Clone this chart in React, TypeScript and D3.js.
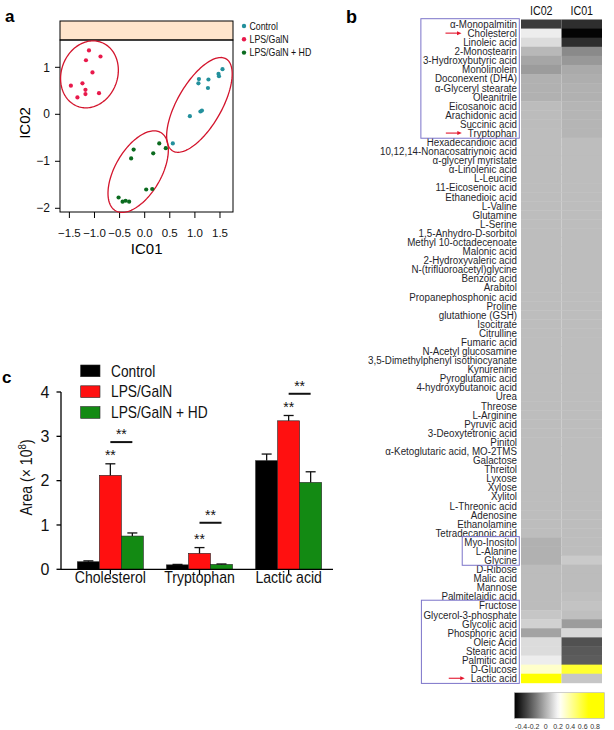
import React from "react";
import * as d3 from "d3";

const FONT = "'Liberation Sans', Arial, Helvetica, sans-serif";

// ---------- Panel a: ICA scores ----------
const groupsA = ["Control", "LPS/GalN", "LPS/GalN + HD"];
const colorsA = ["#23909c", "#e8194b", "#0b6b1f"];
const controlX = [1.55, 1.47, 1.48, 1.08, 1.07, 1.27, 1.26, 1.11, 1.14, 0.9, 0.56];
const controlY = [0.96, 0.86, 0.81, 0.75, 0.66, 0.74, 0.56, 0.06, 0.08, -0.04, -0.62];
const lpsX = [-1.11, -1.17, -0.88, -1.04, -1.47, -1.24, -1.18, -1.18, -1.34, -0.91];
const lpsY = [1.36, 1.15, 1.23, 0.89, 0.61, 0.66, 0.52, 0.43, 0.36, 0.45];
const hdX = [0.29, 0.42, -0.22, 0.17, -0.27, 0.03, 0.15, -0.52, -0.44, -0.38, -0.31];
const hdY = [-0.62, -0.72, -0.75, -0.83, -0.94, -1.6, -1.59, -1.77, -1.86, -1.84, -1.86];
// ellipses (Control, LPS/GalN, LPS/GalN + HD)
const ellCx = [1.09, -1.1, -0.13];
const ellCy = [0.2, 0.85, -1.22];
const ellA = [1.06, 0.68, 0.9];
const ellB = [0.44, 0.56, 0.46];
const ellAngle = [60, 70, 60];
const xTicksA = [-1.5, -1, -0.5, 0, 0.5, 1, 1.5];
const yTicksA = [-2, -1, 0, 1];

// ---------- Panel b: heatmap ----------
const metabolites = [
  "α-Monopalmitin", "Cholesterol", "Linoleic acid", "2-Monostearin", "3-Hydroxybutyric acid",
  "Monolinolein", "Doconexent (DHA)", "α-Glyceryl stearate", "Oleanitrile", "Eicosanoic acid",
  "Arachidonic acid", "Succinic acid", "Tryptophan", "Hexadecandioic acid",
  "10,12,14-Nonacosatriynoic acid", "α-glyceryl myristate", "α-Linolenic acid", "L-Leucine",
  "11-Eicosenoic acid", "Ethanedioic acid", "L-Valine", "Glutamine", "L-Serine",
  "1,5-Anhydro-D-sorbitol", "Methyl 10-octadecenoate", "Malonic acid", "2-Hydroxyvaleric acid",
  "N-(trifluoroacetyl)glycine", "Benzoic acid", "Arabitol", "Propanephosphonic acid", "Proline",
  "glutathione (GSH)", "Isocitrate", "Citrulline", "Fumaric acid", "N-Acetyl glucosamine",
  "3,5-Dimethylphenyl isothiocyanate", "Kynurenine", "Pyroglutamic acid", "4-hydroxybutanoic acid",
  "Urea", "Threose", "L-Arginine", "Pyruvic acid", "3-Deoxytetronic acid", "Pinitol",
  "α-Ketoglutaric acid, MO-2TMS", "Galactose", "Threitol", "Lyxose", "Xylose", "Xylitol",
  "L-Threonic acid", "Adenosine", "Ethanolamine", "Tetradecanoic acid", "Myo-Inositol",
  "L-Alanine", "Glycine", "D-Ribose", "Malic acid", "Mannose", "Palmitelaidic acid", "Fructose",
  "Glycerol-3-phosphate", "Glycolic acid", "Phosphoric acid", "Oleic Acid", "Stearic acid",
  "Palmitic acid", "D-Glucose", "Lactic acid",
];
const heatCols = ["IC02", "IC01"];
const ic02Values = [
  -0.33, 0.17, 0.12, 0.02, -0.03, -0.06, 0.0, 0.0, 0.0, 0.03,
  0.03, 0.03, 0.035, 0.035, 0.035, 0.035, 0.035, 0.035, 0.035, 0.035,
  0.035, 0.035, 0.035, 0.035, 0.035, 0.035, 0.035, 0.035, 0.035, 0.035,
  0.035, 0.035, 0.035, 0.035, 0.035, 0.035, 0.035, 0.035, 0.035, 0.035,
  0.035, 0.035, 0.035, 0.035, 0.035, 0.035, 0.035, 0.035, 0.035, 0.035,
  0.035, 0.035, 0.035, 0.035, 0.035, 0.035, 0.035, 0.0, 0.0, 0.0,
  0.03, 0.03, 0.03, 0.03, 0.03, 0.06, 0.09, -0.04, 0.12, 0.12,
  0.17, 0.32, 0.75,
];
const ic01Values = [
  -0.37, -0.49, -0.37, -0.11, -0.07, -0.02, -0.01, 0.0, 0.0, 0.01,
  0.01, 0.01, 0.01, 0.035, 0.035, 0.035, 0.035, 0.035, 0.035, 0.035,
  0.035, 0.035, 0.035, 0.035, 0.035, 0.035, 0.035, 0.035, 0.035, 0.035,
  0.035, 0.035, 0.035, 0.035, 0.035, 0.035, 0.035, 0.035, 0.035, 0.035,
  0.035, 0.035, 0.035, 0.035, 0.035, 0.035, 0.035, 0.035, 0.035, 0.035,
  0.035, 0.035, 0.035, 0.035, 0.035, 0.035, 0.035, 0.035, 0.035, 0.07,
  0.03, 0.03, 0.03, 0.04, 0.05, 0.04, -0.06, 0.11, -0.27, -0.25,
  -0.24, 0.61, 0.06,
];
const boxedGroups = [
  ["α-Monopalmitin", "Tryptophan"],
  ["Myo-Inositol", "Glycine"],
  ["Fructose", "Lactic acid"],
];
const arrowRows = ["Cholesterol", "Tryptophan", "Lactic acid"];
const colorbarTicks = [-0.4, -0.2, 0, 0.2, 0.4, 0.6, 0.8];
const colorbarLabels = ["-0.4", "-0.2", "0", "0.2", "0.4", "0.6", "0.8"];

// ---------- Panel c: bar chart ----------
const barCats = ["Cholesterol", "Tryptophan", "Lactic acid"];
const seriesC = ["Control", "LPS/GalN", "LPS/GalN + HD"];
const colorsC = ["#000000", "#ff1010", "#138a13"];
const controlMean = [0.17, 0.1, 2.45];
const controlErr = [0.02, 0.01, 0.15];
const lpsMean = [2.12, 0.36, 3.35];
const lpsErr = [0.26, 0.13, 0.12];
const hdMean = [0.75, 0.11, 1.96];
const hdErr = [0.07, 0.01, 0.24];
const sigLine = [2.87, 1.05, 3.96];
const yTicksC = [0, 1, 2, 3, 4];

let ctx: CanvasRenderingContext2D | null = null;
function measure(text: string, font: string): number {
  if (!ctx) ctx = document.createElement("canvas").getContext("2d");
  if (!ctx) return text.length * 5.5;
  ctx.font = font;
  return ctx.measureText(text).width;
}

function NText(props: {
  x: number; y: number; sx: number; size: number; anchor?: string; children: any;
  weight?: string | number; fill?: string; rotate?: number;
}) {
  const { x, y, sx, size, anchor = "start", children, weight = "normal", fill = "#111", rotate = 0 } = props;
  return (
    <g transform={`translate(${x},${y}) rotate(${rotate}) scale(${sx},1)`}>
      <text textAnchor={anchor as any} fontSize={size} fontWeight={weight} fill={fill} fontFamily={FONT}>
        {children}
      </text>
    </g>
  );
}

export default function App() {
  // ----- panel a -----
  const xA = d3.scaleLinear().domain([-1.687, 1.759]).range([60, 233]);
  const yA = d3.scaleLinear().domain([-2.079, 1.581]).range([212, 40]);
  const fmtX = d3.format(".1f");
  const fmtY = d3.format("d");
  const ptsA = [
    controlX.map((v, i) => [v, controlY[i]]),
    lpsX.map((v, i) => [v, lpsY[i]]),
    hdX.map((v, i) => [v, hdY[i]]),
  ];
  const k = xA(1) - xA(0);
  const ellipsePath = (i: number) => {
    const cx = xA(ellCx[i]);
    const cy = yA(ellCy[i]);
    const th = (ellAngle[i] * Math.PI) / 180;
    const pts = d3.range(0, 2 * Math.PI, Math.PI / 72).map((t) => [
      cx + k * (ellA[i] * Math.cos(t) * Math.cos(th) - ellB[i] * Math.sin(t) * Math.sin(th)),
      cy - k * (ellA[i] * Math.cos(t) * Math.sin(th) + ellB[i] * Math.sin(t) * Math.cos(th)),
    ]) as [number, number][];
    return d3.line().curve(d3.curveLinearClosed)(pts) || "";
  };

  // ----- panel b -----
  const rowScale = d3.scaleBand<string>().domain(metabolites).range([19.5, 682.8]);
  const colScale = d3.scaleBand<string>().domain(heatCols).range([521, 602]);
  const colorScale = d3
    .scaleLinear<string>()
    .domain([-0.5, 0.22, 0.7])
    .range(["#000000", "#ffffff", "#ffff00"])
    .clamp(true);
  const cbScale = d3.scaleLinear().domain([-0.51, 0.95]).range([514.3, 604.3]);
  const labelRight = 517;
  const labelSx = 0.89;
  const labelFont = `11px ${FONT}`;
  const labelStart = (m: string) => labelRight - measure(m, labelFont) * labelSx;
  const rb = rowScale.bandwidth();
  const cbStops = d3.range(-0.51, 0.96, 0.05);

  // ----- panel c -----
  const yC = d3.scaleLinear().domain([0, 4]).range([569.3, 392]);
  const xC = d3.scaleBand<string>().domain(barCats).range([64, 335]).paddingInner(0.26).paddingOuter(0.15);
  const xSub = d3.scaleBand<string>().domain(seriesC).range([0, xC.bandwidth()]);
  const means = [controlMean, lpsMean, hdMean];
  const errs = [controlErr, lpsErr, hdErr];

  return (
    <svg
      width={614}
      height={730}
      style={{ position: "absolute", left: 0, top: 0, background: "#fff" }}
      fontFamily={FONT}
    >
      <rect x={0} y={0} width={614} height={730} fill="#fff" />
      {/* ================= Panel a ================= */}
      <text x={5} y={22} fontSize={17} fontWeight="bold" fontFamily={FONT}>a</text>
      <rect x={60} y={21} width={173} height={19} fill="#ffe5cc" stroke="#000" strokeWidth={1} />
      <rect x={60} y={40} width={173} height={172} fill="none" stroke="#000" strokeWidth={1} />
      {xTicksA.map((t) => (
        <g key={"xa" + t}>
          <line x1={xA(t)} x2={xA(t)} y1={212} y2={218} stroke="#000" />
          <text x={xA(t)} y={236.5} fontSize={11.5} textAnchor="middle" fontFamily={FONT} fill="#111">
            {fmtX(t)}
          </text>
        </g>
      ))}
      {yTicksA.map((t) => (
        <g key={"ya" + t}>
          <line x1={55} x2={60} y1={yA(t)} y2={yA(t)} stroke="#000" />
          <text x={50} y={yA(t) + 4.2} fontSize={12} textAnchor="end" fontFamily={FONT} fill="#111">
            {fmtY(t)}
          </text>
        </g>
      ))}
      <text x={146.7} y={254} fontSize={15} textAnchor="middle" fontFamily={FONT}>IC01</text>
      <text transform="translate(30,123) rotate(-90)" fontSize={15} textAnchor="middle" fontFamily={FONT}>IC02</text>
      {[0, 1, 2].map((i) => (
        <path key={"ell" + i} d={ellipsePath(i)} fill="none" stroke="#d3142c" strokeWidth={1.3} />
      ))}
      {ptsA.map((pts, g) =>
        pts.map((p, j) => (
          <circle key={`p${g}-${j}`} cx={xA(p[0])} cy={yA(p[1])} r={2.1} fill={colorsA[g]} />
        ))
      )}
      {groupsA.map((g, i) => (
        <g key={"lga" + i}>
          <circle cx={244} cy={26 + i * 13.3} r={2.2} fill={colorsA[i]} />
          <NText x={249.5} y={26 + i * 13.3 + 3.6} sx={0.88} size={10}>{g}</NText>
        </g>
      ))}

      {/* ================= Panel b ================= */}
      <text x={346} y={23} fontSize={18} fontWeight="bold" fontFamily={FONT}>b</text>
      {heatCols.map((c) => (
        <NText key={"hc" + c} x={colScale(c)! + colScale.bandwidth() / 2} y={15} sx={0.86} size={12.5} anchor="middle">
          {c}
        </NText>
      ))}
      {metabolites.map((m, i) => (
        <g key={"cell" + i}>
          <rect x={colScale("IC02")} y={rowScale(m)} width={colScale.bandwidth()} height={rb + 0.4} fill={colorScale(ic02Values[i])} />
          <rect x={colScale("IC01")} y={rowScale(m)} width={colScale.bandwidth()} height={rb + 0.4} fill={colorScale(ic01Values[i])} />
        </g>
      ))}
      {metabolites.map((m) => (
        <NText key={"lab" + m} x={labelRight} y={rowScale(m)! + rb / 2 + 3.9} sx={labelSx} size={11} anchor="end" fill="#1f1f2b">
          {m}
        </NText>
      ))}
      {boxedGroups.map(([a, b], gi) => {
        const i0 = metabolites.indexOf(a);
        const i1 = metabolites.indexOf(b);
        const names = metabolites.slice(i0, i1 + 1);
        const left = d3.min(names, (n) => labelStart(n))! - 2;
        const top = rowScale(a)! - 0.8;
        const bottom = rowScale(b)! + rb + 0.6;
        return (
          <rect key={"box" + gi} x={left} y={top} width={519.3 - left} height={bottom - top} fill="none" stroke="#7c74c9" strokeWidth={1} />
        );
      })}
      {arrowRows.map((m) => {
        const s = labelStart(m);
        const cy = rowScale(m)! + rb / 2;
        const x1 = s - 22;
        const x2 = s - 6;
        return (
          <g key={"arr" + m}>
            <line x1={x1} x2={x2 - 3} y1={cy} y2={cy} stroke="#e3162d" strokeWidth={1.1} />
            <polygon points={`${x2},${cy} ${x2 - 4.5},${cy - 2} ${x2 - 4.5},${cy + 2}`} fill="#e3162d" />
          </g>
        );
      })}
      <defs>
        <linearGradient id="cbgrad" x1="0" x2="1" y1="0" y2="0">
          {cbStops.map((v, i) => (
            <stop key={"st" + i} offset={(cbScale(v) - cbScale(-0.51)) / (cbScale(0.95) - cbScale(-0.51))} stopColor={colorScale(v)} />
          ))}
        </linearGradient>
      </defs>
      <rect x={cbScale(-0.51)} y={692.7} width={cbScale(0.95) - cbScale(-0.51)} height={25.6} fill="url(#cbgrad)" stroke="#b0b0b0" strokeWidth={0.6} />
      {colorbarTicks.map((t, i) => (
        <text key={"cbt" + i} x={cbScale(t)} y={728.5} fontSize={7} textAnchor="middle" fill="#333" fontFamily={FONT}>
          {colorbarLabels[i]}
        </text>
      ))}

      {/* ================= Panel c ================= */}
      <text x={2} y={383} fontSize={17} fontWeight="bold" fontFamily={FONT}>c</text>
      {seriesC.map((s, i) => (
        <g key={"lgc" + s}>
          <rect x={80.7} y={365 + i * 20.8} width={19.3} height={11.7} fill={colorsC[i]} stroke="#222" strokeWidth={0.6} />
          <NText x={111} y={365 + i * 20.8 + 11.6} sx={0.86} size={16}>{s}</NText>
        </g>
      ))}
      {barCats.map((c, ci) =>
        seriesC.map((s, si) => {
          const x0 = xC(c)! + xSub(s)!;
          const w = xSub.bandwidth();
          const m = means[si][ci];
          const e = errs[si][ci];
          const cx = x0 + w / 2;
          return (
            <g key={`bar${ci}-${si}`}>
              <rect x={x0} y={yC(m)} width={w} height={yC(0) - yC(m)} fill={colorsC[si]} stroke="#222" strokeWidth={0.6} />
              <line x1={cx} x2={cx} y1={yC(m)} y2={yC(m + e)} stroke="#111" strokeWidth={1.3} />
              <line x1={cx - 5} x2={cx + 5} y1={yC(m + e)} y2={yC(m + e)} stroke="#111" strokeWidth={1.3} />
            </g>
          );
        })
      )}
      {barCats.map((c, ci) => {
        const redC = xC(c)! + xSub("LPS/GalN")! + xSub.bandwidth() / 2;
        const greenC = xC(c)! + xSub("LPS/GalN + HD")! + xSub.bandwidth() / 2;
        const errTop = yC(lpsMean[ci] + lpsErr[ci]);
        const ly = yC(sigLine[ci]);
        return (
          <g key={"sig" + c}>
            <text x={redC} y={errTop - 3.5} fontSize={14} textAnchor="middle" fontFamily={FONT} fill="#111">**</text>
            <line x1={redC} x2={greenC} y1={ly} y2={ly} stroke="#111" strokeWidth={2} />
            <text x={(redC + greenC) / 2} y={ly - 3} fontSize={14} textAnchor="middle" fontFamily={FONT} fill="#111">**</text>
          </g>
        );
      })}
      <line x1={61} x2={61} y1={yC(0)} y2={yC(4)} stroke="#000" strokeWidth={1.3} />
      <line x1={61} x2={333} y1={yC(0)} y2={yC(0)} stroke="#000" strokeWidth={1.3} />
      {yTicksC.map((t) => (
        <g key={"yc" + t}>
          <line x1={56.5} x2={61} y1={yC(t)} y2={yC(t)} stroke="#000" strokeWidth={1.3} />
          <text x={49.5} y={yC(t) + 5.6} fontSize={16} textAnchor="end" fontFamily={FONT} fill="#111">{t}</text>
        </g>
      ))}
      {barCats.map((c) => {
        const cx = xC(c)! + xC.bandwidth() / 2;
        return (
          <g key={"xc" + c}>
            <line x1={cx} x2={cx} y1={yC(0)} y2={yC(0) + 5} stroke="#000" strokeWidth={1.3} />
            <NText x={cx} y={583.3} sx={0.88} size={16} anchor="middle">{c}</NText>
          </g>
        );
      })}
      <g transform="translate(31.5,477.5) rotate(-90) scale(0.88,1)">
        <text textAnchor="middle" fontSize={16} fontFamily={FONT} fill="#111">
          Area (× 10<tspan dy={-6} fontSize={11}>8</tspan><tspan dy={6}>)</tspan>
        </text>
      </g>
    </svg>
  );
}
